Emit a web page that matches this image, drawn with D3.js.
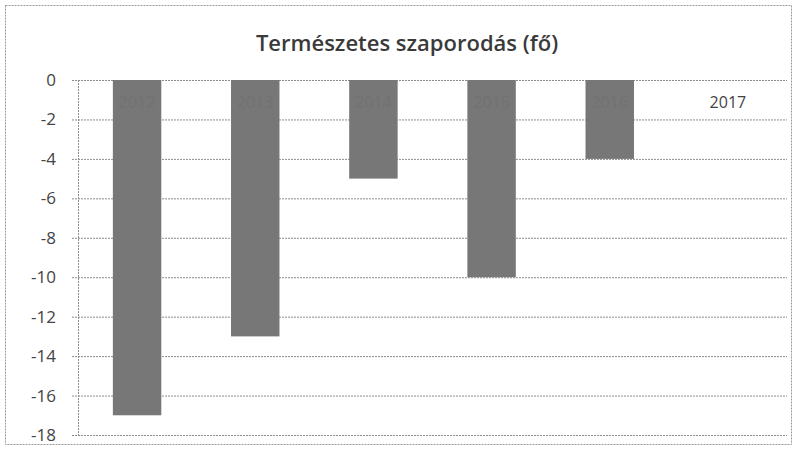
<!DOCTYPE html>
<html>
<head>
<meta charset="utf-8">
<script src="https://cdn.jsdelivr.net/npm/d3@7"></script>
<style>
  body { margin: 0; background: #fff; }
  text { font-family: "Open Sans", "Noto Sans", sans-serif; }
</style>
</head>
<body>
<svg id="chart"></svg>
<script>
// Chart data
const years = ["2012", "2013", "2014", "2015", "2016", "2017"];
const values = [-17, -13, -5, -10, -4, 0];
const yTicks = [0, -2, -4, -6, -8, -10, -12, -14, -16, -18];
const title = "Természetes szaporodás (fő)";

const W = 797, H = 450;
const margin = { top: 80, right: 10, bottom: 14, left: 78 };
const width = W - margin.left - margin.right;
const height = H - margin.top - margin.bottom;

const svg = d3.select("#chart")
    .attr("width", W)
    .attr("height", H);

// outer dotted frame
svg.append("rect")
    .attr("x", 5.5).attr("y", 5.5)
    .attr("width", W - 11).attr("height", H - 11)
    .attr("fill", "none")
    .attr("stroke", "#9a9a9a")
    .attr("stroke-dasharray", "2,1");

svg.append("text")
    .attr("x", 407).attr("y", 51)
    .attr("text-anchor", "middle")
    .attr("font-size", 22)
    .attr("font-weight", 600)
    .attr("fill", "#3a3a3a")
    .text(title);

const g = svg.append("g")
    .attr("transform", `translate(${margin.left},${margin.top})`);

const x = d3.scaleBand()
    .domain(years)
    .range([0, width])
    .paddingInner(0.59)
    .paddingOuter(0.295);

const y = d3.scaleLinear()
    .domain([0, -18])
    .range([0, height - 1]);

// gridlines + y labels (plain hyphen like the original)
const yAxis = g.append("g")
    .call(d3.axisLeft(y).tickValues(yTicks).tickSize(-width).tickPadding(22)
        .tickFormat(d => String(d)))
    .call(a => a.select(".domain").remove());
yAxis.selectAll(".tick line")
    .attr("x1", -6)
    .attr("stroke", "#8c8c8c")
    .attr("stroke-dasharray", "2,1");
yAxis.selectAll(".tick text")
    .attr("font-size", 17)
    .attr("fill", "#444")
    .attr("font-family", "'Open Sans', sans-serif");

// vertical axis line
g.append("line")
    .attr("x1", 0.5).attr("x2", 0.5)
    .attr("y1", 0).attr("y2", y(-18))
    .attr("stroke", "#8c8c8c")
    .attr("stroke-dasharray", "2,1");

// bars
g.selectAll(".bar")
    .data(values)
    .enter()
    .append("rect")
    .attr("class", "bar")
    .attr("x", (d, i) => x(years[i]))
    .attr("width", x.bandwidth())
    .attr("y", y(0))
    .attr("height", d => y(d) - y(0))
    .attr("fill", "#777");

// category labels near zero line
g.append("g")
    .selectAll("text")
    .data(years)
    .enter()
    .append("text")
    .attr("x", d => x(d) + x.bandwidth() / 2)
    .attr("y", 28)
    .attr("text-anchor", "middle")
    .attr("font-size", 16)
    .attr("fill", (d, i) => values[i] < 0 ? "#727272" : "#444")
    .text(d => d);
</script>
</body>
</html>
